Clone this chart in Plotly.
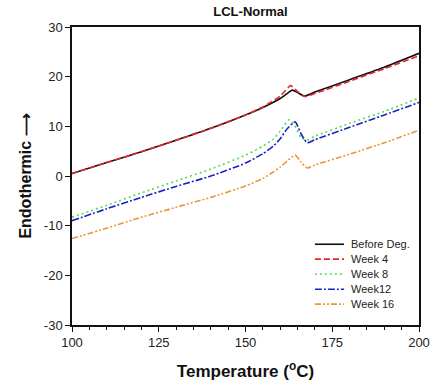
import plotly.graph_objects as go

# Temperature (°C) and heat-flow values
t_before = [100, 110, 120, 130, 140, 150, 155, 160, 162, 163.5, 165, 167, 170, 180, 190, 200]
v_before = [0.5, 2.7, 4.9, 7.2, 9.6, 12.3, 13.8, 15.6, 16.6, 17.3, 16.8, 16.1, 16.9, 19.4, 21.9, 24.7]

t_week4 = [100, 110, 120, 130, 140, 150, 155, 160, 161.5, 163, 165, 167, 170, 180, 190, 200]
v_week4 = [0.5, 2.7, 4.9, 7.2, 9.6, 12.3, 13.9, 16.1, 17.2, 18.2, 17.0, 16.0, 16.6, 19.1, 21.6, 24.2]

t_week8 = [100, 110, 120, 130, 140, 150, 155, 158, 160, 162.5, 164, 166, 167.5, 170, 180, 190, 200]
v_week8 = [-8.3, -5.9, -3.4, -1.0, 1.4, 4.2, 6.0, 7.4, 9.0, 11.3, 10.4, 7.8, 7.2, 8.0, 10.6, 13.0, 15.7]

t_week12 = [100, 110, 120, 130, 140, 150, 155, 158, 160, 162, 164.3, 166, 167.8, 170, 180, 190, 200]
v_week12 = [-9.0, -6.6, -4.3, -2.1, 0.0, 2.6, 4.5, 6.0, 7.5, 9.5, 10.9, 8.5, 6.7, 7.3, 9.8, 12.3, 14.8]

t_week16 = [100, 110, 120, 130, 140, 150, 155, 158, 160, 162, 164.3, 166, 167.8, 170, 180, 190, 200]
v_week16 = [-12.6, -10.5, -8.3, -6.3, -4.3, -2.0, -0.5, 0.8, 1.8, 3.0, 4.2, 2.8, 1.6, 2.2, 4.4, 6.7, 9.2]

names = ["Before Deg.", "Week 4", "Week 8", "Week12", "Week 16"]
x_ticks = [100, 125, 150, 175, 200]
y_ticks = [-30, -20, -10, 0, 10, 20, 30]
y_ticklabels = ["-30", "-20", "-10", "0", "10", "20", "30"]

colors = ["#111111", "#e8262a", "#4fdc4f", "#1f1fc8", "#e8973a"]
dashes = ["solid", "6px,3px", "2px,3px", "7px,2px,2px,2px", "6px,2px,2px,2px,2px,2px"]

series = [
    (t_before, v_before),
    (t_week4, v_week4),
    (t_week8, v_week8),
    (t_week12, v_week12),
    (t_week16, v_week16),
]

fig = go.Figure()
for name, (t, v), c, d in zip(names, series, colors, dashes):
    fig.add_trace(go.Scatter(
        x=t, y=v, mode="lines", name=name, showlegend=False,
        line=dict(color=c, width=1.6, dash=d, shape="spline", smoothing=0.6),
    ))

# Compact legend (rows 15 px apart, as in the reference)
row_y = [0.271, 0.221, 0.171, 0.120, 0.070]
shapes = []
annotations = []
for name, c, d, yy in zip(names, colors, dashes, row_y):
    shapes.append(dict(type="line", xref="paper", yref="paper",
                       x0=0.700, x1=0.784, y0=yy, y1=yy,
                       line=dict(color=c, width=1.6, dash=d)))
    annotations.append(dict(text=name, xref="paper", yref="paper",
                            x=0.798, y=yy, xanchor="left", yanchor="middle",
                            showarrow=False, font=dict(size=11, color="#222")))

fig.update_layout(
    width=442, height=390,
    margin=dict(l=72, r=13, t=27, b=64),
    paper_bgcolor="white", plot_bgcolor="white",
    font=dict(family="Arial, Liberation Sans, sans-serif", color="#222"),
    title=dict(text="<b>LCL-Normal</b>", x=0.5667, xanchor="center",
               y=0.97, yanchor="middle", font=dict(size=13, color="#111")),
    showlegend=False,
    shapes=shapes,
    annotations=annotations,
)

fig.update_xaxes(
    range=[100, 200], tickvals=x_ticks,
    ticks="outside", ticklen=5, tickwidth=1.3, tickcolor="#111",
    minor=dict(dtick=5, tick0=100, ticks="outside", ticklen=3, tickwidth=1, tickcolor="#111"),
    showline=True, linecolor="#111", linewidth=1.5, mirror=True,
    showgrid=False, zeroline=False,
    tickfont=dict(size=13, color="#222"),
    title=dict(text="<b>Temperature (<sup>o</sup>C)</b>", font=dict(size=17, color="#111"), standoff=16),
)
fig.update_yaxes(
    range=[-30, 30], tickvals=y_ticks, ticktext=y_ticklabels,
    ticks="outside", ticklen=5, tickwidth=1.3, tickcolor="#111",
    showline=True, linecolor="#111", linewidth=1.5, mirror=True,
    showgrid=False, zeroline=False,
    tickfont=dict(size=13, color="#222"),
    title=dict(text="<b>Endothermic \u27f6</b>", font=dict(size=16, color="#111"), standoff=8),
)

fig.write_html("out.html")
